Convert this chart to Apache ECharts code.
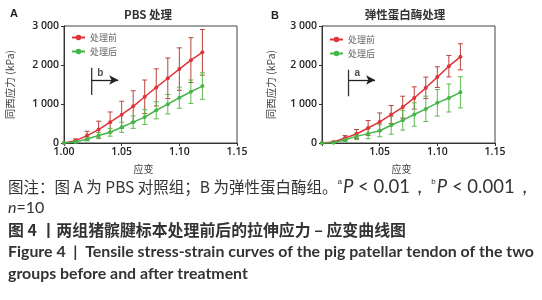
<!DOCTYPE html>
<html>
<head>
<meta charset="utf-8">
<script src="https://cdn.jsdelivr.net/npm/echarts@6/dist/echarts.min.js"></script>
<style>
  html, body { margin: 0; padding: 0; background: #fff; }
  #chart { width: 542px; height: 300px; }
</style>
</head>
<body>
<div id="chart"></div>
<script>
// strain points (both panels)
const strain = [1.00, 1.01, 1.02, 1.03, 1.04, 1.05, 1.06, 1.07, 1.08, 1.09, 1.10, 1.11, 1.12]

// panel A: PBS
const aBefore   = [0, 60, 190, 345, 535, 725, 940, 1185, 1425, 1660, 1895, 2125, 2325]
const aBeforeSd = [0, 45, 110, 215, 260, 345, 400, 430, 475, 520, 545, 575, 585]
const aAfter    = [0, 25, 105, 190, 275, 405, 535, 665, 840, 995, 1160, 1315, 1460]
const aAfterSd  = [0, 20, 50, 80, 100, 130, 160, 190, 220, 250, 270, 300, 340]

// panel B: elastase
const bBefore   = [0, 25, 130, 230, 385, 540, 730, 920, 1155, 1415, 1690, 1970, 2210]
const bBeforeSd = [0, 15, 60, 115, 190, 230, 230, 280, 285, 275, 265, 275, 335]
const bAfter    = [0, 5, 85, 170, 240, 315, 455, 585, 730, 875, 1030, 1155, 1300]
const bAfterSd  = [0, 5, 45, 85, 130, 155, 230, 255, 300, 325, 340, 360, 400]

const seriesNames = ["处理前", "处理后"]
const panelTitles = ["PBS 处理", "弹性蛋白酶处理"]
const yTicks = [0, 1000, 2000, 3000]
const xTicks = [1.00, 1.05, 1.10, 1.15]

// significance markers: [x start, x end, y, y low, y high, letter]
const markA = [1.024, 1.047, 1615, 1230, 1930, "b"]
const markB = [1.023, 1.046, 1615, 1200, 1880, "a"]

const RED = "#e0343a", RED_BAR = "#b8443c"
const GREEN = "#45b649", GREEN_BAR = "#5dbb4f"

const chart = echarts.init(document.getElementById("chart"), null, { renderer: "canvas" })

function pairs(ys) { return strain.map((x, i) => [x, ys[i]]) }

function errorSeries(gi, ys, sd, color) {
    return {
        type: "custom",
        xAxisIndex: gi, yAxisIndex: gi,
        silent: true, z: 1,
        data: strain.map((x, i) => [x, ys[i] - sd[i], ys[i] + sd[i]]),
        renderItem(params, api) {
            if (api.value(2) - api.value(1) <= 0) return
            const lo = api.coord([api.value(0), api.value(1)])
            const hi = api.coord([api.value(0), api.value(2)])
            const w = 2.5
            const st = { stroke: color, lineWidth: 1 }
            return {
                type: "group",
                children: [
                    { type: "line", shape: { x1: hi[0], y1: hi[1], x2: lo[0], y2: lo[1] }, style: st },
                    { type: "line", shape: { x1: hi[0] - w, y1: hi[1], x2: hi[0] + w, y2: hi[1] }, style: st },
                    { type: "line", shape: { x1: lo[0] - w, y1: lo[1], x2: lo[0] + w, y2: lo[1] }, style: st },
                ],
            }
        },
    }
}

function lineSeries(gi, name, ys, color) {
    return {
        type: "line", name,
        xAxisIndex: gi, yAxisIndex: gi,
        data: pairs(ys),
        symbol: "circle", symbolSize: 4,
        lineStyle: { color, width: 1.5 },
        itemStyle: { color },
        z: 3,
    }
}

function markSeries(gi, m) {
    return [
        {
            type: "line", xAxisIndex: gi, yAxisIndex: gi, silent: true,
            data: [[m[0], m[3]], [m[0], m[4]]],
            symbol: "none", lineStyle: { color: "#333", width: 1.3 },
            markLine: {
                silent: true, symbol: ["none", "arrow"], symbolSize: [7, 9],
                lineStyle: { color: "#222", type: "solid", width: 1.3 },
                label: { show: false },
                data: [[{ coord: [m[0], m[2]] }, { coord: [m[1], m[2]] }]],
            },
        },
        {
            type: "scatter", xAxisIndex: gi, yAxisIndex: gi, silent: true,
            data: [[(m[0] + m[1]) / 2 - 0.004, m[2]]], symbolSize: 0,
            label: {
                show: true, position: "top", distance: 2, formatter: m[5],
                fontSize: 10, fontWeight: "bold", color: "#222", fontFamily: "Liberation Sans",
            },
        },
    ]
}

const grids = [
    { left: 64, top: 26, width: 173, height: 117 },
    { left: 322, top: 26, width: 173, height: 117 },
]

const axisFont = { fontFamily: "Open Sans", fontSize: 10.5, fontWeight: 600, color: "#222" }

const xAxes = grids.map((g, gi) => ({
    type: "value", gridIndex: gi,
    min: xTicks[0], max: xTicks[xTicks.length - 1], interval: 0.05,
    axisLine: { onZero: false, lineStyle: { color: "#333" } },
    axisTick: { length: 3, lineStyle: { color: "#333" } },
    splitLine: { show: false },
    axisLabel: {
        ...axisFont, margin: 4,
        formatter: v => (gi === 1 && v === xTicks[0]) ? "" : v.toFixed(2),
    },
    name: "应变", nameLocation: "middle", nameGap: 21,
    nameTextStyle: { fontFamily: "Noto Sans CJK SC", fontSize: 10, color: "#444", padding: [0, 14, 0, 0] },
}))

const yAxes = grids.map((g, gi) => ({
    type: "value", gridIndex: gi,
    min: yTicks[0], max: yTicks[yTicks.length - 1], interval: 1000,
    axisLine: { show: true, lineStyle: { color: "#333" } },
    axisTick: { show: true, length: 3, lineStyle: { color: "#333" } },
    splitLine: { show: false },
    axisLabel: {
        ...axisFont, margin: 5,
        formatter: v => v === 0 ? "0" : (v / 1000) + " 000",
    },
    name: "同西应力 (kPa)", nameLocation: "middle", nameGap: gi === 0 ? 49 : 46,
    nameTextStyle: { fontFamily: "Noto Sans CJK SC", fontSize: 10.5, color: "#444" },
}))

const legends = [
    { left: 66, top: 28 },
    { left: 324, top: 30 },
].map((p, gi) => ({
    ...p, orient: "vertical", itemGap: 5, itemWidth: 13, itemHeight: 7,
    data: seriesNames.map(n => ({ name: n })),
    textStyle: { fontFamily: "Noto Sans CJK SC", fontSize: 9, color: "#666" },
    selectedMode: false,
}))

const series = [
    errorSeries(0, aBefore, aBeforeSd, RED_BAR),
    errorSeries(0, aAfter, aAfterSd, GREEN_BAR),
    lineSeries(0, seriesNames[0], aBefore, RED),
    lineSeries(0, seriesNames[1], aAfter, GREEN),
    ...markSeries(0, markA),
    errorSeries(1, bBefore, bBeforeSd, RED_BAR),
    errorSeries(1, bAfter, bAfterSd, GREEN_BAR),
    lineSeries(1, seriesNames[0], bBefore, RED),
    lineSeries(1, seriesNames[1], bAfter, GREEN),
    ...markSeries(1, markB),
]

const capFont = "15.5px 'Noto Sans CJK SC'"
const capBold = "bold 15.9px 'Noto Sans CJK SC'"
const enBold = "bold 15.9px Lato"

chart.setOption({
    animation: false,
    grid: grids.map(g => ({ ...g, show: true, borderColor: "#444", borderWidth: 1, backgroundColor: "transparent" })),
    xAxis: xAxes,
    yAxis: yAxes,
    legend: legends,
    series,
    graphic: [
        { type: "text", x: 10, y: 14, style: { text: "A", font: "bold 11px 'Liberation Sans'", fill: "#222", textVerticalAlign: "middle" } },
        { type: "text", x: 271, y: 16, style: { text: "B", font: "bold 11px 'Liberation Sans'", fill: "#222", textVerticalAlign: "middle" } },
        { type: "text", x: 148, y: 15, style: { text: panelTitles[0], font: "bold 11.5px 'Noto Sans CJK SC'", fill: "#333", textAlign: "center", textVerticalAlign: "middle" } },
        { type: "text", x: 405, y: 15, style: { text: panelTitles[1], font: "bold 11.5px 'Noto Sans CJK SC'", fill: "#333", textAlign: "center", textVerticalAlign: "middle" } },
        {
            type: "text", x: 8, y: 187,
            style: {
                text: "图注：图 A 为 PBS 对照组；B 为弹性蛋白酶组。{s|a}{i|P}{l| < 0.01，}{s| b}{i|P}{l| < 0.001，}",
                font: capFont, fill: "#333", textVerticalAlign: "middle",
                rich: {
                    s: { fontSize: 8, verticalAlign: "top", padding: [0, 1, 8, 0], fill: "#333" },
                    i: { fontStyle: "italic", fontFamily: "Lato", fontSize: 18.5, fill: "#333" },
                    l: { fontFamily: "Lato", fontSize: 18.5, fill: "#333" },
                },
            },
        },
        {
            type: "text", x: 8, y: 208,
            style: {
                text: "{i|n}=10", font: "16px Lato", fill: "#333", textVerticalAlign: "middle",
                rich: { i: { fontStyle: "italic", fontFamily: "Lato", fontSize: 16, fill: "#333" } },
            },
        },
        { type: "text", x: 8, y: 230, style: { text: "图 4 丨两组猪髌腱标本处理前后的拉伸应力 – 应变曲线图", font: capBold, fill: "#333", textVerticalAlign: "middle" } },
        { type: "text", x: 8, y: 252, style: { text: "Figure 4  |  Tensile stress-strain curves of the pig patellar tendon of the two", font: enBold, fill: "#333", textVerticalAlign: "middle" } },
        { type: "text", x: 8, y: 274, style: { text: "groups before and after treatment", font: enBold, fill: "#333", textVerticalAlign: "middle" } },
    ],
})
</script>
</body>
</html>
